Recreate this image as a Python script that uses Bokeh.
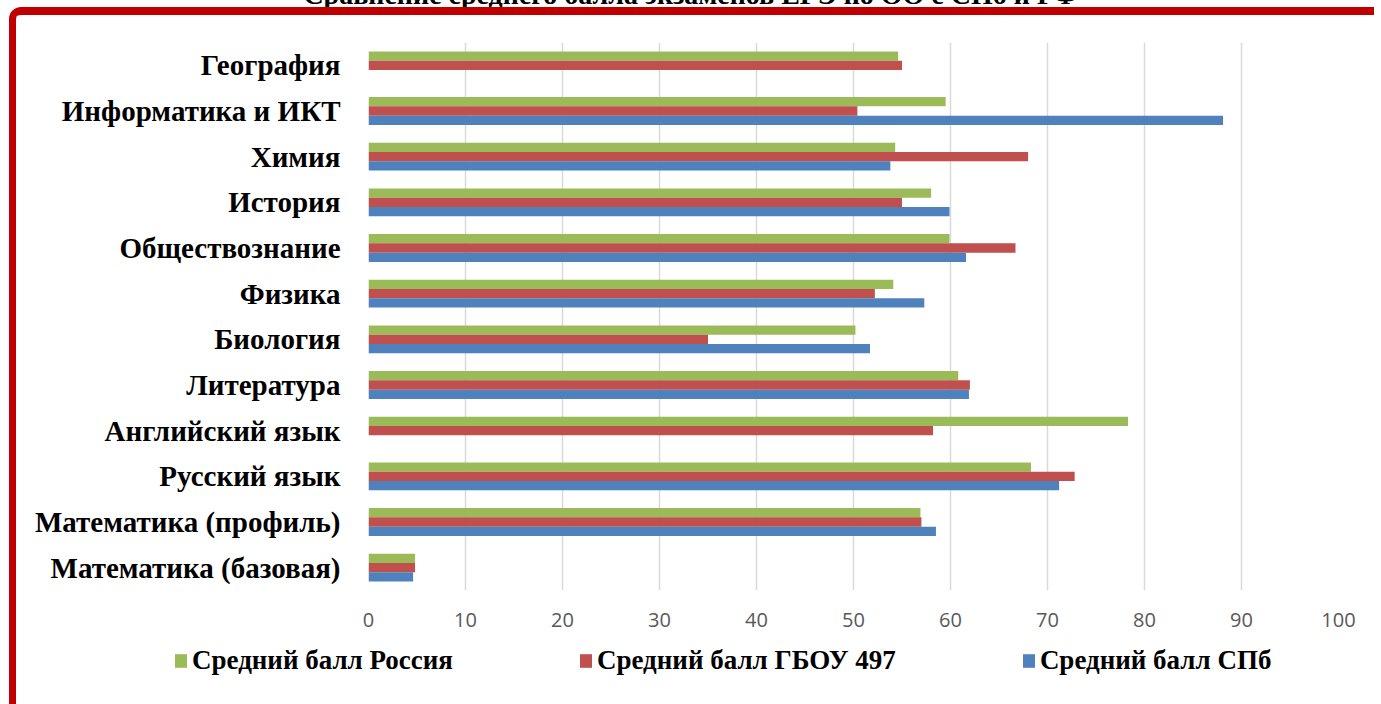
import math
from bokeh.plotting import figure
from bokeh.layouts import column
from bokeh.models import (FactorRange, FixedTicker, Legend, LegendItem,
                          ColumnDataSource, Div)
from bokeh.transform import dodge
from bokeh.embed import file_html
from bokeh.resources import INLINE

nan = float("nan")

title_text = "Сравнение среднего балла экзаменов ЕГЭ по ОО с СПб и РФ"

categories = ["География", "Информатика и ИКТ", "Химия", "История",
              "Обществознание", "Физика", "Биология", "Литература",
              "Английский язык", "Русский язык", "Математика (профиль)",
              "Математика (базовая)"]

russia = [54.6, 59.5, 54.3, 58.0, 59.9, 54.1, 50.2, 60.8, 78.3, 68.3, 56.9, 4.8]
school = [55.0, 50.4, 68.0, 55.0, 66.7, 52.2, 35.0, 62.0, 58.2, 72.8, 57.0, 4.8]
spb = [nan, 88.1, 53.8, 59.9, 61.6, 57.3, 51.7, 61.9, nan, 71.2, 58.5, 4.6]

series_names = ["Средний балл Россия", "Средний балл ГБОУ 497", "Средний балл СПб"]
x_ticks = [0, 10, 20, 30, 40, 50, 60, 70, 80, 90, 100]

GREEN, RED, BLUE = "#9BBB59", "#C0504D", "#4F81BD"
FRAME_RED = "#C00000"

W = 1365
H1 = 625
H2 = 74

src = ColumnDataSource(dict(cat=categories, russia=russia, school=school, spb=spb))

# ---- title strip (only the lower edge of the title is visible) ----
title_div = Div(
    text=("<div style=\"position:relative; top:-19px; width:1381px; text-align:center;"
          " font-family:'Liberation Serif'; font-weight:bold; font-size:28px;"
          " line-height:28px; white-space:nowrap; color:black;\">"
          + title_text + "</div>"),
    width=1381, height=7,
    styles={"overflow": "hidden", "margin": "0px", "padding": "0px"})

# ---- main chart ----
fig = figure(width=W, height=H1, output_backend="svg", toolbar_location=None,
             y_range=FactorRange(factors=list(reversed(categories))),
             x_range=(0, 100),
             min_border_left=352, min_border_right=43,
             min_border_top=27, min_border_bottom=50)
fig.frame_align = False
fig.styles = {"margin-left": "9px", "border-top": "8px solid " + FRAME_RED,
              "border-left": "7px solid " + FRAME_RED,
              "border-top-left-radius": "12px"}
fig.outline_line_color = None
fig.background_fill_color = "white"
fig.border_fill_color = "white"

bh = 0.203
r1 = fig.hbar(y=dodge("cat", bh, range=fig.y_range), left=0, right="russia", height=bh,
              source=src, fill_color=GREEN, line_color=None)
r2 = fig.hbar(y=dodge("cat", 0.0, range=fig.y_range), left=0, right="school", height=bh,
              source=src, fill_color=RED, line_color=None)
r3 = fig.hbar(y=dodge("cat", -bh, range=fig.y_range), left=0, right="spb", height=bh,
              source=src, fill_color=BLUE, line_color=None)

fig.xaxis.ticker = FixedTicker(ticks=x_ticks)
fig.xaxis.axis_line_color = None
fig.xaxis.major_tick_line_color = None
fig.xaxis.minor_tick_line_color = None
fig.xaxis.major_label_text_font = "Open Sans"
fig.xaxis.major_label_text_font_size = "20px"
fig.xaxis.major_label_text_color = "#595959"
fig.xaxis.major_label_standoff = 16

fig.yaxis.axis_line_color = None
fig.yaxis.major_tick_line_color = None
fig.yaxis.minor_tick_line_color = None
fig.yaxis.major_tick_out = 0
fig.yaxis.major_label_text_font = "Liberation Serif"
fig.yaxis.major_label_text_font_style = "bold"
fig.yaxis.major_label_text_font_size = "29px"
fig.yaxis.major_label_text_color = "black"
fig.yaxis.major_label_standoff = 28

fig.ygrid.grid_line_color = None
fig.xgrid.grid_line_color = "#D9D9D9"
fig.xgrid.grid_line_width = 1.5

# ---- legend strip (legend swatches come from the same series, hidden) ----
leg_fig = figure(width=W, height=H2, output_backend="svg", toolbar_location=None,
                 x_axis_type=None, y_axis_type=None, x_range=(0, 1), y_range=(0, 1),
                 min_border=0)
leg_fig.frame_align = False
leg_fig.styles = {"margin-left": "9px", "border-left": "7px solid " + FRAME_RED}
leg_fig.outline_line_color = None
leg_fig.grid.visible = False
leg_fig.background_fill_color = "white"
leg_fig.border_fill_color = "white"

g1 = leg_fig.hbar(y=0.5, left=0, right="russia", height=0.1, source=src,
                  fill_color=GREEN, line_color=None, visible=False)
g2 = leg_fig.hbar(y=0.5, left=0, right="school", height=0.1, source=src,
                  fill_color=RED, line_color=None, visible=False)
g3 = leg_fig.hbar(y=0.5, left=0, right="spb", height=0.1, source=src,
                  fill_color=BLUE, line_color=None, visible=False)

legend = Legend(items=[LegendItem(label=series_names[0], renderers=[g1]),
                       LegendItem(label=series_names[1], renderers=[g2]),
                       LegendItem(label=series_names[2], renderers=[g3])],
                orientation="horizontal", location=(157, 30),
                spacing=125, label_standoff=4, glyph_width=15, glyph_height=17,
                label_text_font="Liberation Serif", label_text_font_style="bold",
                label_text_font_size="27px", label_text_color="black",
                padding=0, margin=0, border_line_color=None,
                background_fill_alpha=0, inactive_fill_alpha=0)
leg_fig.add_layout(legend, "center")

page = column(title_div, fig, leg_fig, spacing=0)

open("out.html", "w").write(file_html(page, INLINE))
